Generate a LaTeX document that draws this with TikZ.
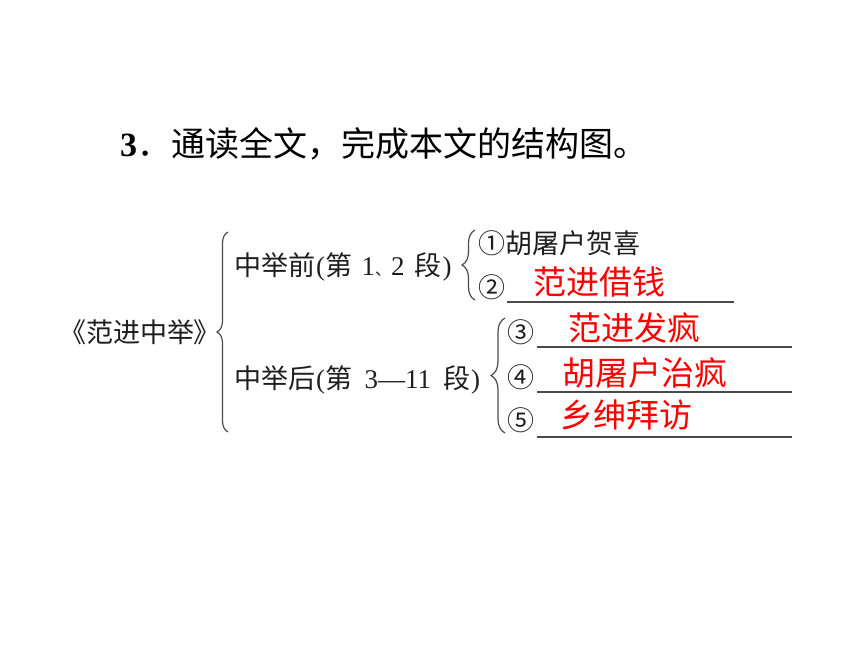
\documentclass[tikz,border=0pt]{standalone}
\usepackage{fontspec}
\setmainfont{Liberation Serif}
\newfontfamily\cjk{Noto Sans CJK SC}
\usetikzlibrary{decorations.pathreplacing}
\definecolor{inkc}{HTML}{1E1E1E}
\definecolor{linec}{HTML}{4A4A4A}
\definecolor{redc}{HTML}{FF0000}
\tikzset{
  lbl/.style={anchor=base west,inner sep=0pt,text=inkc,font=\fontsize{27}{27}\selectfont},
  ans/.style={anchor=base west,inner sep=0pt,text=redc,font=\cjk\fontsize{33}{33}\selectfont},
  ttl/.style={anchor=base west,inner sep=0pt,text=black},
  uline/.style={draw=linec,line width=1.3pt},
  brc/.style={draw=linec,line width=1.2pt,decorate,decoration={brace,amplitude=#1}}
}
\begin{document}
\begin{tikzpicture}[x=1pt,y=-1pt]
\useasboundingbox (0,0) rectangle (860,645);
% title
\node[ttl] (title) at (120,156) {\fontsize{34}{34}\selectfont\textbf{3}{\cjk ．通读全文，完成本文的结构图。}};
% root
\node[lbl] (root) at (59,342) {{\cjk 《范进中举\kern-1pt》}};
\draw[brc=11pt] (228,432) -- (228,232);
% branches
\node[lbl] (pre) at (234,275) {{\cjk 中举前}\kern1pt(\kern0.5pt{\cjk 第}\kern9pt 1{\cjk\fontsize{16}{16}\selectfont 、}2\kern10pt{\cjk 段}\kern1pt)};
\node[lbl] (post) at (234,388) {{\cjk 中举后}\kern1pt(\kern0.5pt{\cjk 第}\kern12pt 3—11\kern12pt{\cjk 段}\kern1pt)};
\draw[brc=13pt] (475,300) -- (475,230);
\draw[brc=14pt] (505,433) -- (505,318);
% items
\node[lbl] (i1) at (478,253) {\cjk ①胡屠户贺喜};
\node[lbl] (i2) at (478,297) {\cjk ②};
\node[lbl] (i3) at (507,342) {\cjk ③};
\node[lbl] (i4) at (507,387) {\cjk ④};
\node[lbl] (i5) at (507,430) {\cjk ⑤};
% underlines
\coordinate (u2a) at (507,302); \coordinate (u2b) at (734,302);
\coordinate (u3a) at (537,347); \coordinate (u3b) at (792,347);
\coordinate (u4a) at (537,392); \coordinate (u4b) at (792,392);
\coordinate (u5a) at (537,437); \coordinate (u5b) at (792,437);
\draw[uline] (u2a) -- (u2b);
\draw[uline] (u3a) -- (u3b);
\draw[uline] (u4a) -- (u4b);
\draw[uline] (u5a) -- (u5b);
% answers
\node[ans] (a2) at (533,294.5) {范进借钱};
\node[ans] (a3) at (568,340.5) {范进发疯};
\node[ans] (a4) at (562,385.5) {胡屠户治疯};
\node[ans] (a5) at (560,427.5) {乡绅拜访};
\end{tikzpicture}
\end{document}
